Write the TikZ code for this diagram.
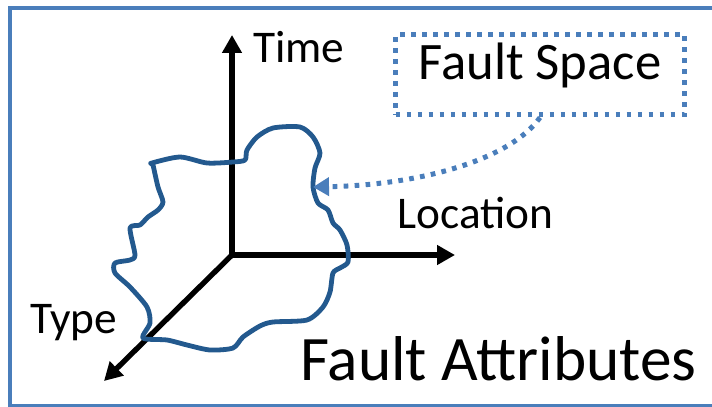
\documentclass[tikz,border=0pt]{standalone}
\usepackage{fontspec}
\setmainfont{Carlito}
\usepackage{tikz}
\usetikzlibrary{arrows.meta}
\definecolor{lineblue}{RGB}{74,126,187}
\definecolor{blobblue}{RGB}{35,89,142}

\begin{document}
\begin{tikzpicture}[x=0.75pt,y=-0.75pt,
    axis/.style={line width=4pt,-{Triangle[length=13.5pt,width=14.25pt]}},
    lbl/.style={inner sep=0pt,anchor=base west,font=\fontsize{34}{40}\selectfont},
    hint/.style={draw=lineblue,line width=3.75pt,dash pattern=on 3.5pt off 4.75pt}]
    \useasboundingbox (0,0) rectangle (712,406);
    \draw[lineblue,line width=3.5pt] (10,8) rectangle (716,406);
    % the three axes
    \coordinate (o) at (232,255);
    \coordinate (tEnd) at (232,35);
    \coordinate (lEnd) at (455,255);
    \coordinate (yEnd) at (104,381);
    \draw[axis] (o) -- (tEnd);
    \draw[axis] (o) -- (lEnd);
    \draw[axis] (o) -- (yEnd);
    \node[lbl] (time) at (253,63) {Time};
    \node[lbl] (loc) at (397,228) {Location};
    \node[lbl] (type) at (30,333) {Type};
    % the space
    \draw[blobblue,line width=3.6pt,line join=round] plot[smooth cycle,tension=0.45] coordinates {
        (152,163) (180,157) (207,163) (233,162) (245,160) (247,150) (257,137)
        (273,128) (300,127) (313,137) (320,153) (315,168) (313,187) (318,203)
        (328,210) (333,223) (340,230) (347,245) (348,262) (340,268) (333,273)
        (330,292) (323,307) (307,320) (273,322) (260,326) (243,337) (233,348)
        (210,350) (187,345) (167,340) (143,338) (150,323) (147,307) (130,287)
        (115,273) (115,263) (130,260) (135,255) (130,228) (140,225) (148,217)
        (158,210) (163,202) (158,187) (153,165)};
    \node[hint,minimum width=216.75pt,minimum height=60pt,text height=0.644em,text depth=0pt,
        font=\fontsize{39.5}{46}\selectfont] (fspace) at (540,75) {Fault Space};
    \coordinate (tip) at (313,187);
    \draw[hint,lineblue,{}-{Triangle[length=12pt,width=13.5pt]}]
        (fspace.south) .. controls (510,160) and (420,185) .. (tip);
    \node[inner sep=0pt,anchor=base west,font=\fontsize{47.5}{54}\selectfont] (title) at (300,380) {Fault Attributes};
\end{tikzpicture}
\end{document}
